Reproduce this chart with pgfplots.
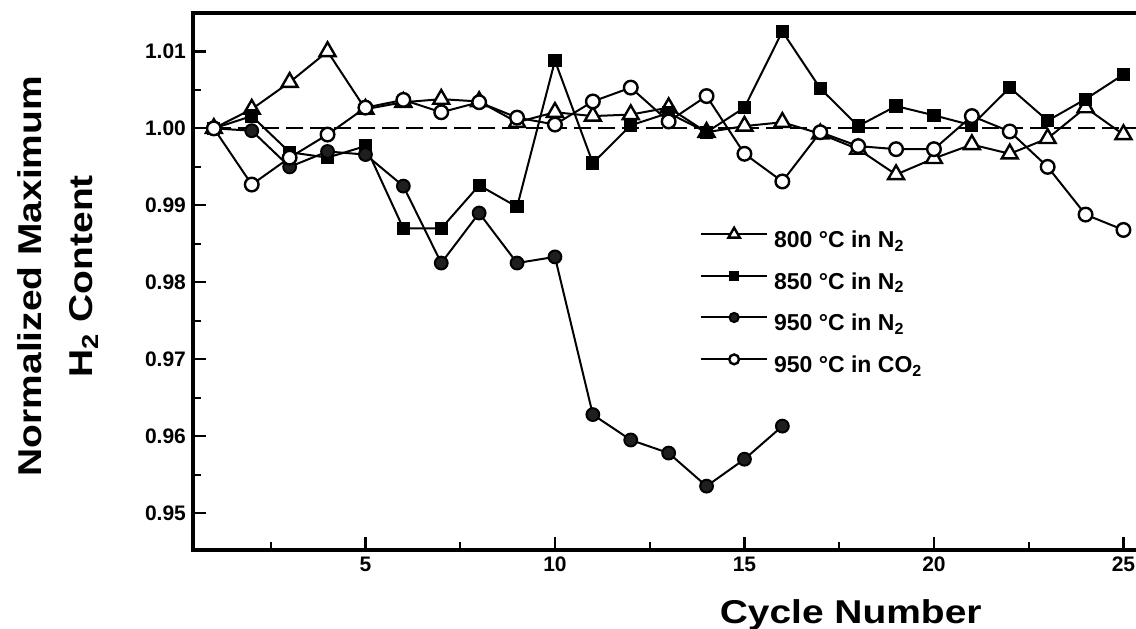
\documentclass[border=0pt]{standalone}
\usepackage{fontspec}
\setmainfont{Liberation Sans}
\newfontfamily\labfont{Liberation Sans}[FakeStretch=1.18]
\usepackage{pgfplots}
\pgfplotsset{compat=1.18}

\begin{document}
\begin{tikzpicture}
\begin{axis}[
  scale only axis, width=476.6pt, height=268.5pt,
  xmin=0.45, xmax=25.6, ymin=0.9452, ymax=1.0150,
  axis line style={line width=1.7pt},
  tick style={line width=1.1pt, black},
  tick align=inside,
  major tick length=6.5pt, minor tick length=4pt,
  xtick={5,10,15,20,25}, minor xtick={2.5,7.5,12.5,17.5,22.5},
  ytick={0.95,0.96,0.97,0.98,0.99,1.00,1.01},
  minor ytick={0.955,0.965,0.975,0.985,0.995,1.005},
  xtick pos=bottom, ytick pos=left,
  /pgf/number format/assume math mode=true,
  ticklabel style={font=\fontsize{10.5}{12}\selectfont\bfseries},
  yticklabel style={/pgf/number format/.cd, fixed, fixed zerofill, precision=2},
  xlabel={Cycle Number},
  ylabel={Normalized Maximum\\H\textsubscript{2} Content},
  every axis x label/.style={at={(rel axis cs:0.69,-0.136)}, anchor=base, font=\labfont\fontsize{16.5}{20}\selectfont\bfseries},
  every axis y label/.style={at={(rel axis cs:-0.1416,0.51)}, rotate=90, anchor=center, align=center, font=\labfont\fontsize{16.5}{25.5}\selectfont\bfseries},
  legend cell align=left,
  legend image code/.code={\draw[mark repeat=2,mark phase=2,#1,every mark/.append style={scale=0.72}] plot coordinates {(0pt,4pt) (16.5pt,4pt) (33pt,4pt)};},
  legend style={at={(axis cs:13.82,0.9772)}, anchor=west, draw=none, fill=none, inner sep=0pt,
    row sep=8.25pt, column sep=3pt,
    nodes={inner sep=0pt, text height=9pt, text depth=3.5pt, font=\fontsize{11.5}{13}\selectfont\bfseries}},
]
\coordinate (sw) at (rel axis cs:0,0);
\addplot[forget plot, line width=1pt, dash pattern=on 8.5pt off 3.5pt] coordinates {(1,1) (25.6,1)};

\addplot[line width=1pt, mark=triangle*, mark size=4.6pt, mark options={fill=white, line width=1.2pt, solid}] coordinates {
(1,1.0000) (2,1.0025) (3,1.0060) (4,1.0100) (5,1.0025) (6,1.0034) (7,1.0038) (8,1.0035) (9,1.0008) (10,1.0021)
(11,1.0016) (12,1.0018) (13,1.0027) (14,0.9995) (15,1.0003) (16,1.0008) (17,0.9993) (18,0.9973) (19,0.9940) (20,0.9961)
(21,0.9979) (22,0.9967) (23,0.9987) (24,1.0027) (25,0.9992)};
\addlegendentry{800 °C in N\textsubscript{2}}

\addplot[line width=1pt, mark=square*, mark size=2.8pt, mark options={fill=black, solid}] coordinates {
(1,1.0000) (2,1.0016) (3,0.9969) (4,0.9962) (5,0.9977) (6,0.9870) (7,0.9870) (8,0.9926) (9,0.9898) (10,1.0088)
(11,0.9955) (12,1.0004) (13,1.0020) (14,0.9995) (15,1.0027) (16,1.0126) (17,1.0052) (18,1.0003) (19,1.0029) (20,1.0017)
(21,1.0004) (22,1.0053) (23,1.0010) (24,1.0038) (25,1.0070)};
\addlegendentry{850 °C in N\textsubscript{2}}

\addplot[line width=1pt, mark=*, mark size=3.2pt, mark options={fill=black!88, line width=1pt, solid}] coordinates {
(1,1.0000) (2,0.9997) (3,0.9950) (4,0.9970) (5,0.9966) (6,0.9925) (7,0.9825) (8,0.9890) (9,0.9825) (10,0.9833)
(11,0.9628) (12,0.9595) (13,0.9578) (14,0.9535) (15,0.9570) (16,0.9613)};
\addlegendentry{950 °C in N\textsubscript{2}}

\addplot[line width=1pt, mark=*, mark size=3.4pt, mark options={fill=white, line width=1.2pt, solid}] coordinates {
(1,1.0000) (2,0.9927) (3,0.9962) (4,0.9992) (5,1.0027) (6,1.0037) (7,1.0021) (8,1.0034) (9,1.0014) (10,1.0005)
(11,1.0035) (12,1.0053) (13,1.0009) (14,1.0042) (15,0.9967) (16,0.9931) (17,0.9995) (18,0.9977) (19,0.9973) (20,0.9973)
(21,1.0016) (22,0.9996) (23,0.9950) (24,0.9888) (25,0.9868)};
\addlegendentry{950 °C in CO\textsubscript{2}}
\end{axis}
\pgfresetboundingbox
\path[use as bounding box] (sw) ++(-96.5pt,-39pt) rectangle ++(568pt,314pt);
\end{tikzpicture}
\end{document}
